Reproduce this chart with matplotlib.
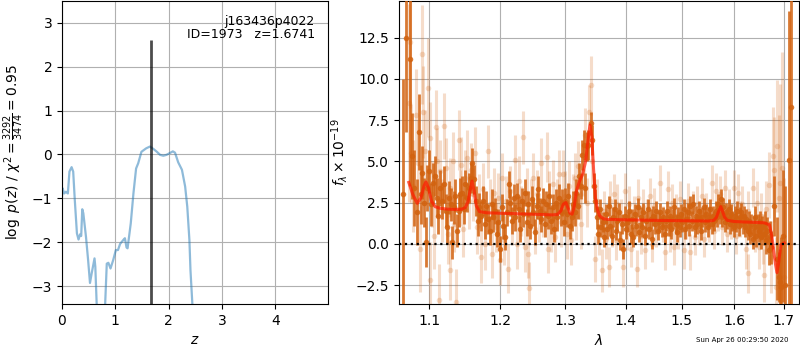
import matplotlib
matplotlib.use("Agg")
import matplotlib.pyplot as plt
from matplotlib.ticker import FixedLocator, FixedFormatter, NullLocator

# ---------------- left panel: log p(z) ----------------
z_grid = [0.0, 0.01, 0.04, 0.075, 0.11, 0.14, 0.18, 0.21, 0.24, 0.28, 0.31, 0.34, 0.36,
          0.38, 0.40, 0.45, 0.49, 0.525, 0.557, 0.61, 0.625, 0.65, 0.72, 0.81, 0.84, 0.87,
          0.91, 0.96, 1.01, 1.05, 1.09, 1.15, 1.18, 1.21, 1.23, 1.29, 1.34, 1.39, 1.43,
          1.49, 1.58, 1.65, 1.72, 1.78, 1.84, 1.90, 1.96, 2.02, 2.08, 2.12, 2.18, 2.25,
          2.31, 2.35, 2.39, 2.41, 2.445, 2.50]
log_pz = [-0.95, -0.77, -0.89, -0.85, -0.89, -0.39, -0.29, -0.39, -1.04, -1.80, -1.94,
          -1.82, -1.86, -1.25, -1.34, -1.88, -2.41, -2.93, -2.71, -2.37, -2.56, -3.39,
          -4.8, -3.4, -2.49, -2.47, -2.60, -2.41, -2.18, -2.18, -2.04, -1.95, -1.91,
          -2.12, -2.14, -1.57, -0.89, -0.32, -0.20, 0.06, 0.14, 0.18, 0.12, 0.06, -0.01,
          -0.03, -0.01, 0.03, 0.07, 0.04, -0.18, -0.35, -0.73, -1.19, -1.95, -2.64,
          -3.4, -4.5]
z_best = 1.6741
z_line_top = 2.6
obj_label = "j163436p4022\nID=1973   z=1.6741"
pz_ylabel = r"$\log\ p(z)$ / $\chi^2=\frac{3292}{3474}=0.95$"
z_ticks = [0, 1, 2, 3, 4]
pz_yticks = [-3, -2, -1, 0, 1, 2, 3]

# ---------------- right panel: spectrum ----------------
model_wave = [1.0728, 1.078, 1.084, 1.089, 1.093, 1.0956, 1.099, 1.103, 1.108, 1.115,
              1.125, 1.135, 1.145, 1.150, 1.154, 1.1565, 1.1594, 1.1625, 1.1655, 1.170,
              1.18, 1.20, 1.22, 1.24, 1.26, 1.28, 1.288, 1.293, 1.297, 1.301, 1.304,
              1.3075, 1.311, 1.314, 1.318, 1.323, 1.328, 1.333, 1.3365, 1.340, 1.343,
              1.346, 1.349, 1.352, 1.356, 1.362, 1.37, 1.40, 1.45, 1.50, 1.55, 1.560,
              1.565, 1.569, 1.5734, 1.577, 1.581, 1.586, 1.60, 1.62, 1.64, 1.66, 1.6703,
              1.675, 1.679, 1.6825, 1.6858, 1.689, 1.6939, 1.698, 1.701]
model_flux = [3.72, 3.0, 2.45, 2.8, 3.5, 3.75, 3.4, 2.6, 2.25, 2.15,
              2.1, 2.08, 2.1, 2.2, 2.6, 3.2, 3.8, 3.2, 2.3, 1.95,
              1.88, 1.85, 1.83, 1.8, 1.78, 1.75, 1.78, 2.0, 2.4, 2.5, 2.2,
              1.85, 1.8, 2.2, 3.2, 3.8, 4.2, 5.0, 6.2, 7.2, 6.5,
              4.5, 2.8, 2.1, 1.7, 1.52, 1.48, 1.45, 1.42, 1.40, 1.38, 1.42,
              1.6, 1.95, 2.25, 1.95, 1.6, 1.42, 1.35, 1.32, 1.3, 1.27, 1.15,
              0.5, -0.4, -1.2, -1.75, -1.2, -0.05, 0.0, 0.05]

dark_wave = [1.0646, 1.0689, 1.0742, 1.0770, 1.0800, 1.0840, 1.0862, 1.0885, 1.0906,
             1.0930, 1.0952, 1.0975, 1.1000, 1.1025, 1.1050, 1.1077, 1.1100, 1.1125,
             1.1150, 1.1175, 1.1200, 1.1225, 1.1250, 1.1275, 1.1300, 1.1312, 1.1340,
             1.1360, 1.1381, 1.1405, 1.1430, 1.1451, 1.1475, 1.1500, 1.1525, 1.1550,
             1.1575, 1.1600, 1.1625, 1.1650, 1.1675, 1.1700, 1.1725, 1.1750, 1.1775,
             1.1800, 1.1825, 1.1850, 1.1875, 1.1900, 1.1925, 1.1950, 1.1975, 1.2000,
             1.2025, 1.2050, 1.2075, 1.2100, 1.2125, 1.2150, 1.2175, 1.2200, 1.2225,
             1.2250, 1.2275, 1.2300, 1.2325, 1.2350, 1.2375, 1.2400, 1.2425, 1.2450,
             1.2475, 1.2500, 1.2525, 1.2550, 1.2575, 1.2600, 1.2625, 1.2650, 1.2675,
             1.2700, 1.2725, 1.2750, 1.2775, 1.2800, 1.2825, 1.2850, 1.2875, 1.2900,
             1.2925, 1.2950, 1.2975, 1.3000, 1.3025, 1.3050, 1.3075, 1.3100, 1.3125,
             1.3150, 1.3175, 1.3200, 1.3225, 1.3250, 1.3275, 1.3300, 1.3325, 1.3350,
             1.3375, 1.3410, 1.3435, 1.3460, 1.3485, 1.3510, 1.3535, 1.3560, 1.3585,
             1.3610, 1.3635, 1.3660, 1.3685, 1.3710, 1.3735, 1.3760, 1.3785, 1.3810,
             1.3835, 1.3860, 1.3885, 1.3910, 1.3935, 1.3960, 1.3985, 1.4010, 1.4035,
             1.4060, 1.4085, 1.4110, 1.4135, 1.4160, 1.4185, 1.4210, 1.4235, 1.4260,
             1.4285, 1.4310, 1.4335, 1.4360, 1.4385, 1.4410, 1.4435, 1.4460, 1.4485,
             1.4510, 1.4535, 1.4560, 1.4585, 1.4610, 1.4635, 1.4660, 1.4685, 1.4710,
             1.4735, 1.4760, 1.4785, 1.4810, 1.4835, 1.4860, 1.4885, 1.4910, 1.4935,
             1.4960, 1.4985, 1.5010, 1.5035, 1.5060, 1.5085, 1.5110, 1.5135, 1.5160,
             1.5185, 1.5210, 1.5235, 1.5260, 1.5285, 1.5310, 1.5335, 1.5360, 1.5385,
             1.5410, 1.5435, 1.5460, 1.5485, 1.5510, 1.5535, 1.5560, 1.5585, 1.5610,
             1.5635, 1.5660, 1.5685, 1.5710, 1.5735, 1.5760, 1.5785, 1.5810, 1.5835,
             1.5860, 1.5885, 1.5910, 1.5935, 1.5960, 1.5985, 1.6010, 1.6035, 1.6060,
             1.6085, 1.6110, 1.6135, 1.6160, 1.6185, 1.6210, 1.6235, 1.6260, 1.6285,
             1.6310, 1.6335, 1.6360, 1.6385, 1.6410, 1.6435, 1.6460, 1.6485, 1.6510,
             1.6535, 1.6560, 1.6585, 1.6610, 1.6635, 1.6660, 1.6685, 1.6710, 1.6740,
             1.6800, 1.6850, 1.6890, 1.6920, 1.6945, 1.6990, 1.7030, 1.7110, 1.7156]
dark_flux = [3.0, 12.5, 11.2, 5.3, 3.4, 1.9, 6.8, 3.0, 4.3,
             2.5, 0.1, 3.4, 4.4, 2.4, 3.7, 4.1, 2.8, 1.7,
             3.4, 2.6, 3.6, 2.0, 1.0, 2.8, 2.4, 0.1, 2.2,
             2.9, 0.8, 2.0, 3.0, 3.1, 2.1, 3.6, 2.8, 3.4,
             4.0, 4.9, 3.9, 2.6, 1.4, 2.2, 1.7, 2.6, 1.2,
             2.3, 1.5, 0.8, 2.4, 1.6, 2.0, 0.6, 1.3, -0.3,
             2.2, 1.1, 0.4, 1.9, 3.6, 2.5, 1.4, 2.8, 1.6,
             2.9, 2.1, 0.9, 2.6, 1.8, 3.1, 1.3, 2.4, 1.1,
             2.7, 1.9, 0.7, 2.3, 3.3, 2.0, 1.5, 2.6, 1.2,
             2.4, 1.7, 2.9, 1.4, 2.2, 0.9, 2.5, 1.6, 2.8,
             1.9, 2.5, 1.3, 2.6, 1.8, 2.9, 1.1, 1.6, 2.4,
             1.9, 3.1, 2.3, 4.1, 3.5, 5.4, 6.0, 3.4, 5.9,
             6.0, 7.3, 6.3, 3.5, 2.6, 1.6, 0.6, 2.1, 1.0,
             1.3, 0.4, 1.8, 0.9, 2.3, 1.1, 0.5, 1.6, 2.1,
             0.8, 1.4, 1.9, 0.2, 1.2, -0.3, 1.7, 0.9, 1.3,
             2.0, 0.6, 1.5, 0.4, 1.8, 1.1, 2.2, 0.7, 1.6,
             1.0, 1.9, 0.5, 1.4, 2.1, 0.9, 1.5, 0.3, 1.7,
             1.2, 2.0, 0.8, 1.3, 1.9, 1.0, 1.6, 0.6, 1.4,
             2.0, 1.1, 1.7, 0.9, 1.5, 2.2, 1.2, 0.7, 1.6,
             1.0, 1.8, 1.3, 2.1, 0.9, 1.5, 1.9, 1.1, 2.3,
             1.4, 2.4, 1.0, 1.7, 1.2, 2.0, 1.5, 0.8, 1.6,
             2.2, 1.3, 1.8, 1.0, 1.6, 2.1, 1.2, 1.7, 1.4,
             2.0, 1.6, 2.4, 1.8, 2.7, 1.6, 2.2, 1.3, 1.9,
             1.5, 2.1, 1.2, 1.8, 1.4, 1.0, 1.7, 1.3, 2.0,
             1.1, 1.6, 1.9, 1.2, 1.7, 1.0, 1.5, 0.8, 1.4,
             0.6, 1.2, 0.3, 1.0, 1.6, 0.5, 1.1, 0.8, 1.3,
             0.4, 1.0, 0.6, 1.2, 0.2, 0.8, -0.4, 0.5, -0.2,
             2.3, -0.9, -2.0, -2.3, -2.6, 0.45, -2.5, 5.1, 8.3]
dark_err = [7.0, 5.7, 7.7, 2.6, 2.3, 2.0, 2.3, 1.8, 1.6,
            1.5, 1.5, 1.4, 1.3, 1.3, 1.2, 1.2, 1.2, 1.1,
            1.1, 1.1, 1.1, 1.0, 1.0, 1.0, 1.0, 1.0, 1.0,
            1.0, 1.0, 1.0, 1.0, 1.0, 0.9, 0.9, 0.9, 0.9,
            0.9, 0.9, 0.9, 0.9, 0.9, 0.9, 0.9, 0.9, 0.9,
            0.9, 0.9, 0.9, 0.9, 0.9, 0.8, 0.8, 0.8, 0.8,
            0.8, 0.8, 0.8, 0.8, 0.8, 0.8, 0.8, 0.8, 0.8,
            0.8, 0.8, 0.8, 0.8, 0.8, 0.8, 0.8, 0.8, 0.8,
            0.8, 0.8, 0.8, 0.8, 0.8, 0.8, 0.8, 0.8, 0.8,
            0.8, 0.8, 0.8, 0.8, 0.8, 0.8, 0.8, 0.8, 0.8,
            0.8, 0.8, 0.8, 0.8, 0.8, 0.8, 0.8, 0.8, 0.8,
            0.8, 0.8, 0.8, 0.8, 0.8, 0.9, 0.9, 0.9, 0.9,
            0.9, 0.7, 0.9, 0.8, 0.7, 0.7, 0.6, 0.6, 0.6,
            0.6, 0.6, 0.6, 0.6, 0.6, 0.6, 0.6, 0.6, 0.6,
            0.6, 0.6, 0.6, 0.6, 0.6, 0.6, 0.6, 0.6, 0.6,
            0.6, 0.6, 0.6, 0.6, 0.6, 0.6, 0.6, 0.6, 0.6,
            0.6, 0.6, 0.6, 0.6, 0.6, 0.6, 0.6, 0.6, 0.6,
            0.6, 0.6, 0.6, 0.6, 0.6, 0.6, 0.6, 0.6, 0.6,
            0.6, 0.6, 0.6, 0.6, 0.6, 0.6, 0.6, 0.6, 0.6,
            0.6, 0.6, 0.6, 0.6, 0.6, 0.6, 0.6, 0.6, 0.6,
            0.6, 0.6, 0.6, 0.6, 0.6, 0.6, 0.6, 0.6, 0.6,
            0.6, 0.6, 0.6, 0.6, 0.6, 0.6, 0.6, 0.6, 0.6,
            0.6, 0.6, 0.6, 0.6, 0.6, 0.6, 0.6, 0.6, 0.6,
            0.6, 0.6, 0.6, 0.6, 0.6, 0.6, 0.6, 0.6, 0.6,
            0.6, 0.6, 0.6, 0.6, 0.6, 0.6, 0.6, 0.6, 0.6,
            0.6, 0.6, 0.6, 0.7, 0.7, 0.7, 0.7, 0.7, 0.7,
            0.7, 0.7, 0.7, 0.8, 0.8, 0.8, 0.9, 0.9, 1.0,
            1.8, 2.5, 1.5, 2.0, 3.0, 4.0, 6.0, 9.0, 12.0]

light_wave = [1.0735, 1.0745, 1.0760, 1.0790, 1.0820, 1.0850, 1.0880, 1.0898, 1.0920,
              1.0945, 1.0987, 1.1009, 1.1015, 1.1040, 1.1060, 1.1087, 1.1110, 1.1130,
              1.1150, 1.1175, 1.1204, 1.1230, 1.1255, 1.1280, 1.1287, 1.1320, 1.1345,
              1.1370, 1.1413, 1.1425, 1.1445, 1.1470, 1.1500, 1.1525, 1.1550, 1.1580,
              1.1610, 1.1640, 1.1670, 1.1700, 1.1725, 1.1750, 1.1780, 1.1826, 1.1850,
              1.1880, 1.1910, 1.1940, 1.1970, 1.2000, 1.2030, 1.2060, 1.2090, 1.2120,
              1.2150, 1.2180, 1.2220, 1.2250, 1.2280, 1.2310, 1.2345, 1.2370, 1.2400,
              1.2420, 1.2429, 1.2470, 1.2500, 1.2530, 1.2560, 1.2590, 1.2620, 1.2650,
              1.2705, 1.2720, 1.2750, 1.2780, 1.2810, 1.2840, 1.2870, 1.2900, 1.2930,
              1.2965, 1.3000, 1.3030, 1.3060, 1.3090, 1.3120, 1.3150, 1.3180, 1.3200,
              1.3230, 1.3260, 1.3290, 1.3320, 1.3350, 1.3380, 1.3415, 1.3440, 1.3490,
              1.3520, 1.3550, 1.3600, 1.3630, 1.3660, 1.3710, 1.3730, 1.3760, 1.3800,
              1.3830, 1.3860, 1.3920, 1.3960, 1.3990, 1.4020, 1.4060, 1.4100, 1.4140,
              1.4190, 1.4220, 1.4260, 1.4300, 1.4340, 1.4380, 1.4420, 1.4460, 1.4500,
              1.4540, 1.4610, 1.4650, 1.4690, 1.4755, 1.4790, 1.4820, 1.4850, 1.4890,
              1.4930, 1.4970, 1.5040, 1.5080, 1.5120, 1.5160, 1.5200, 1.5240, 1.5280,
              1.5320, 1.5380, 1.5420, 1.5460, 1.5500, 1.5570, 1.5600, 1.5640, 1.5680,
              1.5720, 1.5760, 1.5810, 1.5850, 1.5890, 1.5930, 1.5990, 1.6030, 1.6070,
              1.6110, 1.6150, 1.6220, 1.6260, 1.6276, 1.6370, 1.6410, 1.6450, 1.6490,
              1.6530, 1.6570, 1.6600, 1.6640, 1.6696, 1.6740, 1.6778, 1.6800, 1.6840,
              1.6860, 1.6900, 1.6931, 1.6964, 1.7000]
light_flux = [8.55, 12.2, 5.5, 3.5, 7.8, 4.9, -0.3, 11.5, 8.0,
              5.6, 9.45, 6.4, -2.2, 3.0, 0.5, 7.1, 5.0, -3.4,
              4.4, 2.0, 7.15, 4.6, 0.6, 3.4, -1.6, 5.0, 1.2,
              -3.5, 6.3, 2.8, 4.8, 0.9, 4.0, 5.2, 2.6, 4.5,
              3.0, 5.5, 1.0, 2.6, -0.8, 3.3, 0.0, 5.6, 2.4,
              -0.6, 3.1, 1.0, 2.8, -1.0, 4.0, 0.2, 2.6, -1.5,
              3.2, 1.4, 5.1, 0.0, 3.8, 2.0, 6.45, -0.2, 3.1,
              -0.6, -2.7, 2.4, 4.0, 0.9, 3.0, 1.6, 4.9, 1.9,
              5.25, -0.3, 2.9, 1.0, 3.6, 0.4, 2.4, 4.2, 1.3,
              4.2, 2.9, 0.6, 3.5, 0.2, 2.7, 4.0, 1.7, 4.7,
              3.0, 1.2, 4.4, 6.6, 2.5, 8.0, 9.6, 5.0, -0.9,
              2.6, 0.6, -1.6, 2.0, 0.3, -1.4, 2.6, 1.0, 3.0,
              0.2, 2.4, 1.5, -1.4, 3.2, 0.7, 2.4, -0.3, 1.8,
              -1.5, 2.8, 0.5, 2.2, -0.4, 1.6, 2.9, 0.0, 2.3,
              0.9, 3.7, 1.2, -0.5, 3.3, 0.6, 2.5, -0.2, 1.9,
              0.8, 2.7, -0.4, 1.4, 2.6, -0.5, 2.1, 0.4, 2.4,
              1.0, 2.9, 0.3, 2.0, 1.2, 3.7, 0.8, 3.2, 1.9,
              3.0, 1.0, 3.4, 0.6, 2.2, 1.4, 3.4, 0.5, 3.1,
              1.5, 2.4, -0.3, 2.0, -1.8, 3.4, 0.8, 2.5, -0.2,
              1.7, 0.3, -1.9, 2.1, 3.55, -0.8, 5.3, 4.5, -2.6,
              5.95, 2.8, 3.7, 4.6, -2.0]
light_err = [6.0, 4.0, 3.0, 2.8, 2.8, 2.6, 2.6, 3.0, 2.8,
             2.5, 3.0, 2.2, 2.3, 2.0, 2.0, 2.2, 2.0, 2.2,
             1.9, 1.9, 2.0, 1.8, 1.8, 1.8, 1.8, 1.8, 1.7,
             2.0, 1.8, 1.7, 1.7, 1.7, 1.7, 1.7, 1.7, 1.6,
             1.6, 1.6, 1.6, 1.6, 1.6, 1.6, 1.6, 1.6, 1.5,
             1.5, 1.5, 1.5, 1.5, 1.5, 1.5, 1.5, 1.5, 1.5,
             1.5, 1.5, 1.5, 1.5, 1.5, 1.5, 1.6, 1.5, 1.5,
             1.5, 1.6, 1.5, 1.5, 1.5, 1.5, 1.5, 1.5, 1.5,
             1.5, 1.5, 1.5, 1.5, 1.5, 1.5, 1.5, 1.5, 1.5,
             1.5, 1.5, 1.5, 1.5, 1.5, 1.5, 1.5, 1.5, 1.5,
             1.5, 1.5, 1.5, 1.6, 1.5, 1.6, 1.8, 1.6, 1.4,
             1.3, 1.3, 1.3, 1.2, 1.2, 1.2, 1.2, 1.2, 1.2,
             1.2, 1.2, 1.2, 1.2, 1.1, 1.1, 1.1, 1.1, 1.1,
             1.1, 1.1, 1.1, 1.1, 1.1, 1.1, 1.1, 1.1, 1.1,
             1.1, 1.1, 1.1, 1.1, 1.1, 1.1, 1.1, 1.1, 1.1,
             1.1, 1.1, 1.1, 1.1, 1.1, 1.1, 1.1, 1.1, 1.1,
             1.1, 1.1, 1.1, 1.1, 1.1, 1.1, 1.1, 1.1, 1.1,
             1.1, 1.1, 1.1, 1.1, 1.1, 1.1, 1.1, 1.1, 1.1,
             1.1, 1.1, 1.2, 1.2, 1.2, 1.2, 1.3, 1.3, 1.3,
             1.4, 1.5, 1.6, 1.7, 2.0, 2.2, 3.0, 3.2, 3.0,
             4.0, 5.0, 6.0, 7.0, 6.0]

wave_ticks = [1.1, 1.2, 1.3, 1.4, 1.5, 1.6, 1.7]
wave_ticklabels = ["1.1", "1.2", "1.3", "1.4", "1.5", "1.6", "1.7"]
flux_ticks = [-2.5, 0.0, 2.5, 5.0, 7.5, 10.0, 12.5]
timestamp = "Sun Apr 26 00:29:50 2020"

# guard against accidental length mismatches
nd = min(len(dark_wave), len(dark_flux), len(dark_err))
nl = min(len(light_wave), len(light_flux), len(light_err))
nm = min(len(model_wave), len(model_flux))
nz = min(len(z_grid), len(log_pz))

# ---------------- figure ----------------
fig = plt.figure(figsize=(8, 3.5), dpi=100)
ax1 = fig.add_axes([0.0775, 0.1314, 0.3325, 0.866])
ax2 = fig.add_axes([0.49875, 0.1314, 0.5, 0.866])

ax1.plot(z_grid[:nz], log_pz[:nz], color='#1f77b4', alpha=0.5, lw=1.6)
ylo, yhi = -3.41, 3.5
ax1.vlines(z_best, ylo, z_line_top, color='k', alpha=0.7, lw=2)
ax1.set_xlim(0, 4.99)
ax1.set_ylim(ylo, yhi)
ax1.set_xticks(z_ticks)
ax1.set_yticks(pz_yticks)
ax1.grid(True)
ax1.set_xlabel(r"$z$")
ax1.set_ylabel(pz_ylabel)
ax1.text(0.95, 0.955, obj_label, transform=ax1.transAxes, ha='right', va='top',
         fontsize=9, linespacing=1.05)

orange = '#d2620f'
ax2.errorbar(light_wave[:nl], light_flux[:nl], yerr=light_err[:nl], fmt='o', color=orange,
             alpha=0.22, ms=4, mew=0, elinewidth=2.2, capsize=0, zorder=2)
ax2.errorbar(dark_wave[:nd], dark_flux[:nd], yerr=dark_err[:nd], fmt='o', color=orange,
             alpha=0.85, ms=4, mew=0, elinewidth=2.0, capsize=0, zorder=3)
ax2.plot(model_wave[:nm], model_flux[:nm], color='#ff1a00', alpha=0.7, lw=2.2, zorder=4)
ax2.axhline(0, color='k', ls=':', lw=1.6, zorder=5)

ax2.set_xscale('log')
ax2.set_xlim(1.060, 1.732)
ax2.set_ylim(-3.65, 14.72)
ax2.xaxis.set_major_locator(FixedLocator(wave_ticks))
ax2.xaxis.set_major_formatter(FixedFormatter(wave_ticklabels))
ax2.xaxis.set_minor_locator(NullLocator())
ax2.set_yticks(flux_ticks)
ax2.grid(True)
ax2.set_axisbelow(True)
ax2.set_xlabel(r"$\lambda$")
ax2.set_ylabel(r"$f_\lambda \times 10^{-19}$")

fig.text(0.985, 0.028, timestamp, ha='right', va='center', fontsize=5)

fig.savefig("out.png", dpi=100)
